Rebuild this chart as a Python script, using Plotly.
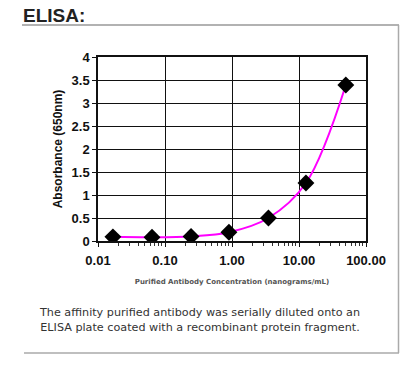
import plotly.graph_objects as go

# Data
concentration = [0.0167, 0.064, 0.245, 0.90, 3.5, 12.7, 50.0]   # ng/mL
absorbance = [0.09, 0.08, 0.10, 0.19, 0.50, 1.26, 3.39]           # A650
x_tick_vals = [0.01, 0.1, 1, 10, 100]
x_tick_text = ["0.01", "0.10", "1.00", "10.00", "100.00"]
y_tick_vals = [0, 0.5, 1, 1.5, 2, 2.5, 3, 3.5, 4]
y_tick_text = ["0", "0.5", "1", "1.5", "2", "2.5", "3", "3.5", "4"]

W, H = 400, 376
L, R, T, B = 98, 366, 57, 241


def px(x):
    return (x - L) / (R - L)


def py(y):
    return (B - y) / (B - T)


minor_vals = [m * d for d in [0.01, 0.1, 1, 10] for m in range(2, 10)]

fig = go.Figure()
fig.add_trace(go.Scatter(
    x=concentration, y=absorbance, mode="lines",
    line=dict(color="#FF00FF", width=2, shape="spline", smoothing=1.0),
    hoverinfo="skip", showlegend=False))
fig.add_trace(go.Scatter(
    x=concentration, y=absorbance, mode="markers",
    marker=dict(symbol="diamond", size=13, color="black"),
    showlegend=False))

axis_font = dict(family="Arial, Liberation Sans, sans-serif", size=13, color="#111", weight="bold")

fig.update_layout(
    width=W, height=H,
    margin=dict(l=L, r=W - R, t=T, b=H - B),
    paper_bgcolor="white", plot_bgcolor="white",
    font=dict(family="Arial, Liberation Sans, sans-serif"),
    xaxis=dict(
        type="log", range=[-2, 2],
        tickvals=x_tick_vals, ticktext=x_tick_text,
        tickfont=dict(family="Arial, Liberation Sans, sans-serif", size=13, color="#111", weight="bold"),
        ticks="outside", ticklen=4, tickwidth=1.2, tickcolor="#111",
        ticklabelstandoff=3,
        showgrid=True, gridcolor="#111", gridwidth=1.4,
        showline=True, linecolor="#111", linewidth=1.5, mirror=True,
        minor=dict(tickvals=minor_vals, ticks="outside", ticklen=3, tickwidth=1, tickcolor="#333", showgrid=False),
        zeroline=False,
        title=dict(text="Purified Antibody Concentration (nanograms/mL)",
                   font=dict(family="DejaVu Sans, sans-serif", size=7, color="#555", weight="bold"),
                   standoff=12),
    ),
    yaxis=dict(
        range=[0, 4],
        tickvals=y_tick_vals, ticktext=y_tick_text,
        tickfont=axis_font,
        ticks="outside", ticklen=4, tickwidth=1.2, tickcolor="#111",
        showgrid=True, gridcolor="#111", gridwidth=1.4,
        showline=True, linecolor="#111", linewidth=1.5, mirror=True,
        zeroline=False,
        title=dict(text="Absorbance (650nm)",
                   font=dict(family="Arial, Liberation Sans, sans-serif", size=12, color="#111", weight="bold"),
                   standoff=6),
    ),
)

# Frame lines
frame_color = "#aaaaaa"
fig.add_shape(type="line", xref="paper", yref="paper",
              x0=px(22), x1=px(399), y0=py(25), y1=py(25),
              line=dict(color="#999999", width=1.5))
fig.add_shape(type="line", xref="paper", yref="paper",
              x0=px(398.5), x1=px(398.5), y0=py(25), y1=py(353),
              line=dict(color=frame_color, width=1.5))
fig.add_shape(type="line", xref="paper", yref="paper",
              x0=px(24), x1=px(399), y0=py(353), y1=py(353),
              line=dict(color=frame_color, width=1.5))

# Title
fig.add_annotation(xref="paper", yref="paper", x=px(21), y=py(15),
                   xanchor="left", yanchor="middle", showarrow=False,
                   text="<b>ELISA:</b>",
                   font=dict(family="Arial, Liberation Sans, sans-serif", size=19, color="#222"))

# Caption
fig.add_annotation(xref="paper", yref="paper", x=px(199), y=py(320),
                   xanchor="center", yanchor="middle", showarrow=False,
                   align="center",
                   text="The affinity purified antibody was serially diluted onto an<br>"
                        "ELISA plate coated with a recombinant protein fragment.",
                   font=dict(family="DejaVu Sans, sans-serif", size=11.2, color="#333"))

fig.write_html(
    "out.html",
    config={"displayModeBar": False},
    post_script="document.body.style.margin='0';document.body.style.overflow='hidden';",
)
